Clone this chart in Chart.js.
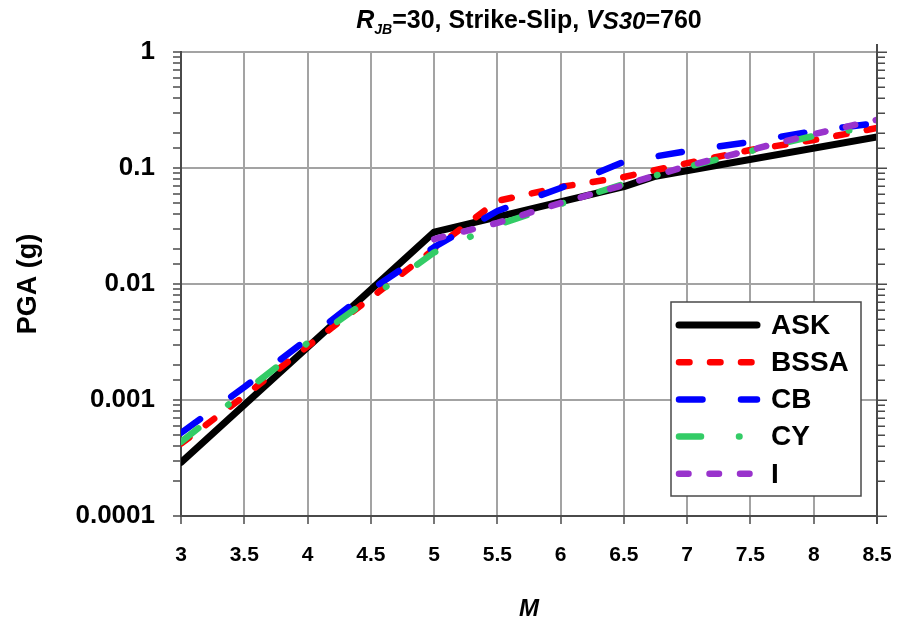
<!DOCTYPE html>
<html>
<head>
<meta charset="utf-8">
<script src="https://cdn.jsdelivr.net/npm/chart.js@4.4.1/dist/chart.umd.min.js"></script>
<style>
  html, body { margin: 0; padding: 0; background: #fff; }
  #wrap { width: 899px; height: 626px; }
</style>
</head>
<body>
<div id="wrap"><canvas id="pga" width="899" height="626"></canvas></div>
<script>
const FONT = "'Liberation Sans', Arial, Helvetica, sans-serif";

// PGA (g) against magnitude for each model
const askM = [3, 5, 6.5, 6.75, 8.5];
const askPGA = [0.00029, 0.028, 0.069, 0.085, 0.185];

const modelM = [3, 3.5, 4, 4.5, 5, 5.5, 6, 6.5, 7, 7.5, 8, 8.5];
const bssaPGA = [0.00042, 0.00108, 0.0029, 0.0076, 0.020, 0.052, 0.0686, 0.0836, 0.110, 0.143, 0.174, 0.221];
const cbPGA = [0.00052, 0.00129, 0.00336, 0.0089, 0.0208, 0.0426, 0.0673, 0.113, 0.140, 0.168, 0.208, 0.244];
const cyPGA = [0.000435, 0.00117, 0.0031, 0.0076, 0.0187, 0.0323, 0.049, 0.0728, 0.102, 0.140, 0.189, 0.230];

const iM = [5, 5.5, 6, 6.5, 7, 7.5, 8, 8.5];
const iPGA = [0.0244, 0.0336, 0.0499, 0.0713, 0.104, 0.143, 0.196, 0.26];

const modelNames = ['ASK', 'BSSA', 'CB', 'CY', 'I'];
const yTickLabels = ['0.0001', '0.001', '0.01', '0.1', '1'];

const GRID = '#a3a3a3';
const AXIS = '#4a4a4a';

function pairs(ms, vals) {
    return ms.map((m, i) => ({ x: m, y: vals[i] }));
}

function isDecade(v) {
    const l = Math.log10(v);
    return Math.abs(l - Math.round(l)) < 1e-6;
}

function decadeLabel(v) {
    if (!isDecade(v)) return '';
    const idx = Math.round(Math.log10(v)) + 4;
    return yTickLabels[idx] || '';
}

// title with italic / subscript pieces
const titlePlugin = {
    id: 'mixedTitle',
    afterDraw(chart) {
        const ctx = chart.ctx;
        const parts = [
            { t: 'R', f: 'italic bold 25px ' + FONT, dy: 0 },
            { t: 'JB', f: 'italic bold 14px ' + FONT, dy: 6 },
            { t: '=30, Strike-Slip, ', f: 'bold 25px ' + FONT, dy: 0 },
            { t: 'V', f: 'italic bold 25px ' + FONT, dy: 0 },
            { t: 'S30', f: 'italic bold 24px ' + FONT, dy: 1 },
            { t: '=760', f: 'bold 25px ' + FONT, dy: 0 }
        ];
        ctx.save();
        let total = 0;
        parts.forEach(p => { ctx.font = p.f; p.w = ctx.measureText(p.t).width; total += p.w; });
        const area = chart.chartArea;
        let x = (area.left + area.right) / 2 - total / 2;
        const y = 28;
        ctx.fillStyle = '#000';
        ctx.textBaseline = 'alphabetic';
        parts.forEach(p => {
            ctx.font = p.f;
            ctx.fillText(p.t, x, y + p.dy);
            x += p.w;
        });
        ctx.restore();
    }
};

// mirror the y ticks on the right edge of the plot
const rightAxis = {
    id: 'rightAxis',
    afterDraw(chart) {
        const ctx = chart.ctx;
        const area = chart.chartArea;
        const y = chart.scales.y;
        ctx.save();
        ctx.strokeStyle = AXIS;
        ctx.lineWidth = 1.5;
        ctx.beginPath();
        y.ticks.forEach(t => {
            const py = Math.round(y.getPixelForValue(t.value)) + 0.25;
            ctx.moveTo(area.right, py);
            ctx.lineTo(area.right + (isDecade(t.value) ? 10 : 8), py);
        });
        ctx.stroke();
        ctx.lineWidth = 2;
        ctx.beginPath();
        ctx.moveTo(area.right, area.top - 8);
        ctx.lineTo(area.right, area.bottom + 8);
        ctx.stroke();
        ctx.restore();
    }
};

// boxed legend in the lower right of the plot
const boxLegend = {
    id: 'boxLegend',
    afterDatasetsDraw(chart) {
        const ctx = chart.ctx;
        const bx = 671, by = 302, bw = 190, bh = 194;
        ctx.save();
        ctx.fillStyle = '#fff';
        ctx.fillRect(bx, by, bw, bh);
        ctx.strokeStyle = AXIS;
        ctx.lineWidth = 1.5;
        ctx.strokeRect(bx, by, bw, bh);

        const rows = modelNames.map(name => chart.data.datasets.find(d => d.label === name));
        rows.forEach((ds, i) => {
            const y = by + 23 + i * 37.2;
            ctx.beginPath();
            ctx.strokeStyle = ds.borderColor;
            ctx.lineWidth = ds.borderWidth;
            ctx.lineCap = 'round';
            ctx.setLineDash(ds.borderDash || []);
            ctx.moveTo(bx + 8, y);
            ctx.lineTo(bx + 86, y);
            ctx.stroke();
            ctx.setLineDash([]);
            ctx.fillStyle = '#000';
            ctx.font = 'bold 28px ' + FONT;
            ctx.textBaseline = 'middle';
            ctx.fillText(ds.label, bx + 100, y + 1);
        });
        ctx.restore();
    }
};

const datasets = [
    { label: 'ASK', data: pairs(askM, askPGA), borderColor: '#000000', borderWidth: 7, borderDash: [], order: 5 },
    { label: 'BSSA', data: pairs(modelM, bssaPGA), borderColor: '#ff0000', borderWidth: 6.5, borderDash: [10.5, 20.5], order: 4 },
    { label: 'CB', data: pairs(modelM, cbPGA), borderColor: '#0000ff', borderWidth: 6.5, borderDash: [23.5, 38.5], order: 3 },
    { label: 'CY', data: pairs(modelM, cyPGA), borderColor: '#33cc66', borderWidth: 6.5, borderDash: [22, 38, 0.5, 38], order: 2 },
    { label: 'I', data: pairs(iM, iPGA), borderColor: '#9933cc', borderWidth: 6.5, borderDash: [9.5, 21], order: 1 }
].map(d => Object.assign(d, {
    fill: false, pointRadius: 0, tension: 0, borderCapStyle: 'round', borderJoinStyle: 'round'
}));

new Chart(document.getElementById('pga').getContext('2d'), {
    type: 'line',
    data: { datasets },
    plugins: [titlePlugin, boxLegend, rightAxis],
    options: {
        responsive: false,
        animation: false,
        devicePixelRatio: 1,
        layout: { autoPadding: false, padding: { top: 52, left: 0, right: 22, bottom: 0 } },
        plugins: { legend: { display: false }, tooltip: { enabled: false } },
        scales: {
            x: {
                type: 'linear', min: 3, max: 8.5,
                afterFit: s => { s.height = 110; s.paddingLeft = 0; s.paddingRight = 0; },
                ticks: {
                    stepSize: 0.5, color: '#000', padding: 19,
                    font: { family: FONT, size: 21, weight: 'bold' },
                    callback: v => String(v)
                },
                grid: { color: GRID, lineWidth: 2, tickColor: AXIS, tickLength: 8, tickWidth: 1.5 },
                border: { color: AXIS, width: 2 },
                title: {
                    display: true, text: 'M', color: '#000',
                    font: { family: FONT, size: 24, weight: 'bold', style: 'italic' },
                    padding: { top: 0, bottom: 2 }
                }
            },
            y: {
                type: 'logarithmic', position: 'left', min: 0.0001, max: 1,
                afterFit: s => { s.width = 181; s.paddingTop = 0; s.paddingBottom = 0; },
                ticks: {
                    autoSkip: false, color: '#000', padding: 18,
                    font: { family: FONT, size: 26, weight: 'bold' },
                    callback: v => decadeLabel(v)
                },
                grid: {
                    color: c => (c.tick && isDecade(c.tick.value)) ? GRID : 'rgba(0,0,0,0)',
                    lineWidth: 2, tickColor: AXIS, tickLength: 8, tickWidth: 1.5
                },
                border: { color: AXIS, width: 2 },
                title: {
                    display: true, text: 'PGA (g)', color: '#000',
                    font: { family: FONT, size: 27, weight: 'bold' },
                    padding: { top: 12, bottom: 0 }
                }
            }
        }
    }
});
</script>
</body>
</html>
